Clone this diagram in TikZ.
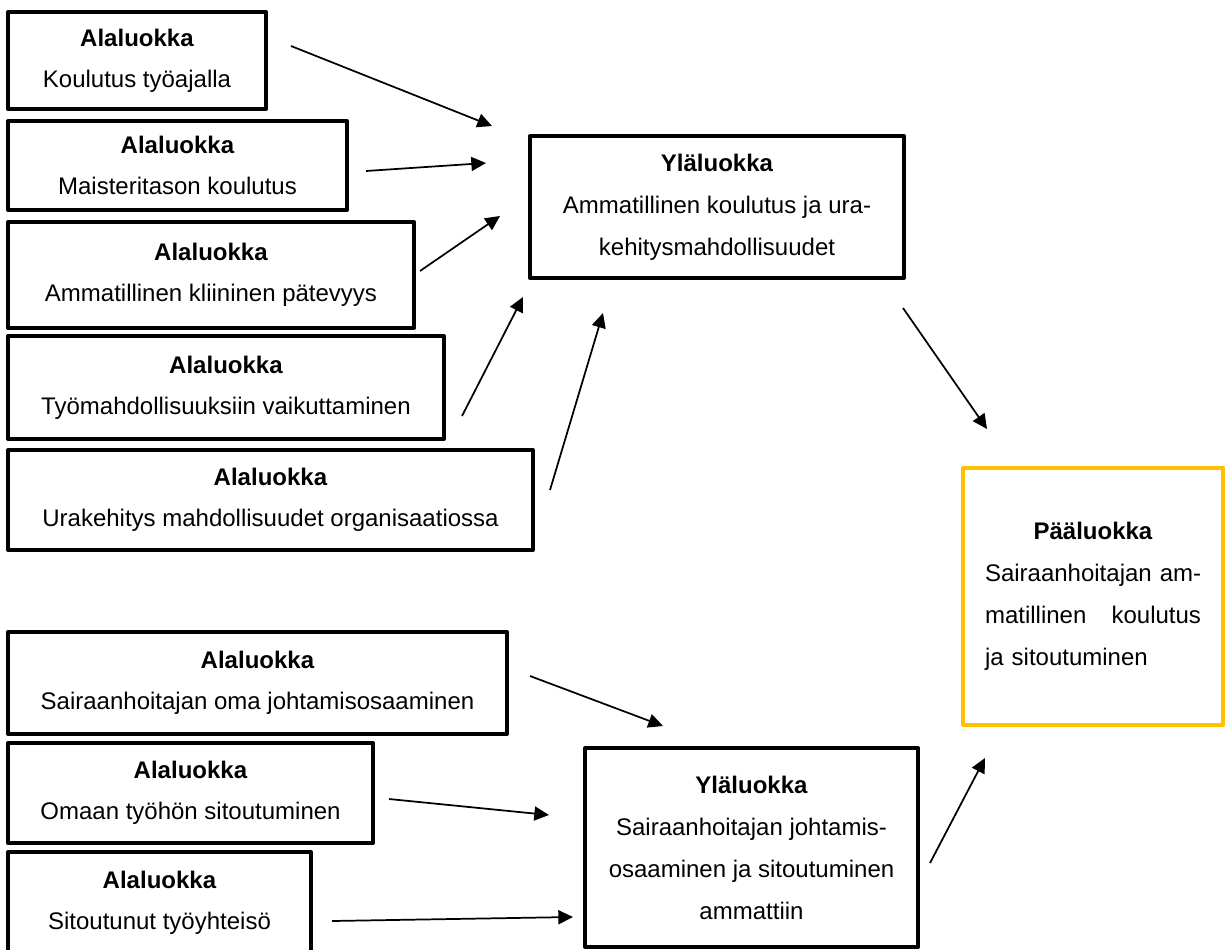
\documentclass[tikz,border=0pt]{standalone}
\usepackage{fontspec}
\setmainfont{Liberation Sans}
\usetikzlibrary{arrows.meta}
\definecolor{goldline}{HTML}{FFC000}
\begin{document}
\begin{tikzpicture}[x=0.75pt,y=-0.75pt,
  catbox/.style={draw=black, line width=3pt, line join=round, rectangle,
    align=center, inner sep=0pt, font=\fontsize{18pt}{30.75pt}\selectfont},
  upperbox/.style={catbox, font=\fontsize{18pt}{31.5pt}\selectfont},
  mainbox/.style={draw=goldline, line width=3pt, line join=round, rectangle,
    align=left, text width=162pt, inner sep=0pt,
    font=\fontsize{18pt}{31.5pt}\selectfont},
  link/.style={line width=1.3pt, -{Triangle[length=11pt,width=10.5pt]}}]
\useasboundingbox (0,0) rectangle (1230,949);

% subcategories of the first upper category
\node[catbox, minimum width=193.5pt, minimum height=72.75pt] (a1) at (137,60.5)
  {\textbf{Alaluokka}\\Koulutus työajalla};
\node[catbox, minimum width=254.25pt, minimum height=66.75pt] (a2) at (177.5,165.5)
  {\textbf{Alaluokka}\\Maisteritason koulutus};
\node[catbox, minimum width=304.5pt, minimum height=79.5pt] (a3) at (211,275)
  {\textbf{Alaluokka}\\Ammatillinen kliininen pätevyys};
\node[catbox, minimum width=327pt, minimum height=77.25pt] (a4) at (226,387.5)
  {\textbf{Alaluokka}\\Työmahdollisuuksiin vaikuttaminen};
\node[catbox, minimum width=393.75pt, minimum height=75pt] (a5) at (270.5,500)
  {\textbf{Alaluokka}\\Urakehitys mahdollisuudet organisaatiossa};

% subcategories of the second upper category
\node[catbox, minimum width=374.25pt, minimum height=76.5pt] (a6) at (257.5,683)
  {\textbf{Alaluokka}\\Sairaanhoitajan oma johtamisosaaminen};
\node[catbox, minimum width=273.75pt, minimum height=75pt] (a7) at (190.5,793)
  {\textbf{Alaluokka}\\Omaan työhön sitoutuminen};
\node[catbox, minimum width=227.25pt, minimum height=75.75pt] (a8) at (159.5,902.5)
  {\textbf{Alaluokka}\\Sitoutunut työyhteisö};

% upper categories
\node[upperbox, minimum width=280.5pt, minimum height=106.5pt] (y1) at (717,207)
  {\textbf{Yläluokka}\\Ammatillinen koulutus ja ura-\\kehitysmahdollisuudet};
\node[upperbox, minimum width=249.75pt, minimum height=149.25pt] (y2) at (751.5,847.5)
  {\textbf{Yläluokka}\\Sairaanhoitajan johtamis-\\osaaminen ja sitoutuminen\\ammattiin};

% main category
\node[mainbox, minimum width=195pt, minimum height=192.75pt] (paa) at (1093,596.5)
  {\makebox[162pt]{\textbf{Pääluokka}}\\
   \makebox[162pt][l]{Sairaanhoitajan am-}\\
   \makebox[162pt]{matillinen\hfill koulutus}\\
   ja sitoutuminen};

% arrow end points
\coordinate (s1) at (291,46);   \coordinate (t1) at (492,126);
\coordinate (s2) at (366,171);  \coordinate (t2) at (486,163);
\coordinate (s3) at (420,271);  \coordinate (t3) at (500,216);
\coordinate (s4) at (462,416);  \coordinate (t4) at (523,297);
\coordinate (s5) at (550,490);  \coordinate (t5) at (603,313);
\coordinate (s6) at (903,308);  \coordinate (t6) at (987,429);
\coordinate (s7) at (530,676);  \coordinate (t7) at (663,726);
\coordinate (s8) at (389,799);  \coordinate (t8) at (549,815);
\coordinate (s9) at (332,921);  \coordinate (t9) at (573,917);
\coordinate (s10) at (930,863); \coordinate (t10) at (985,758);

\foreach \i in {1,...,10} \draw[link] (s\i) -- (t\i);
\end{tikzpicture}
\end{document}
